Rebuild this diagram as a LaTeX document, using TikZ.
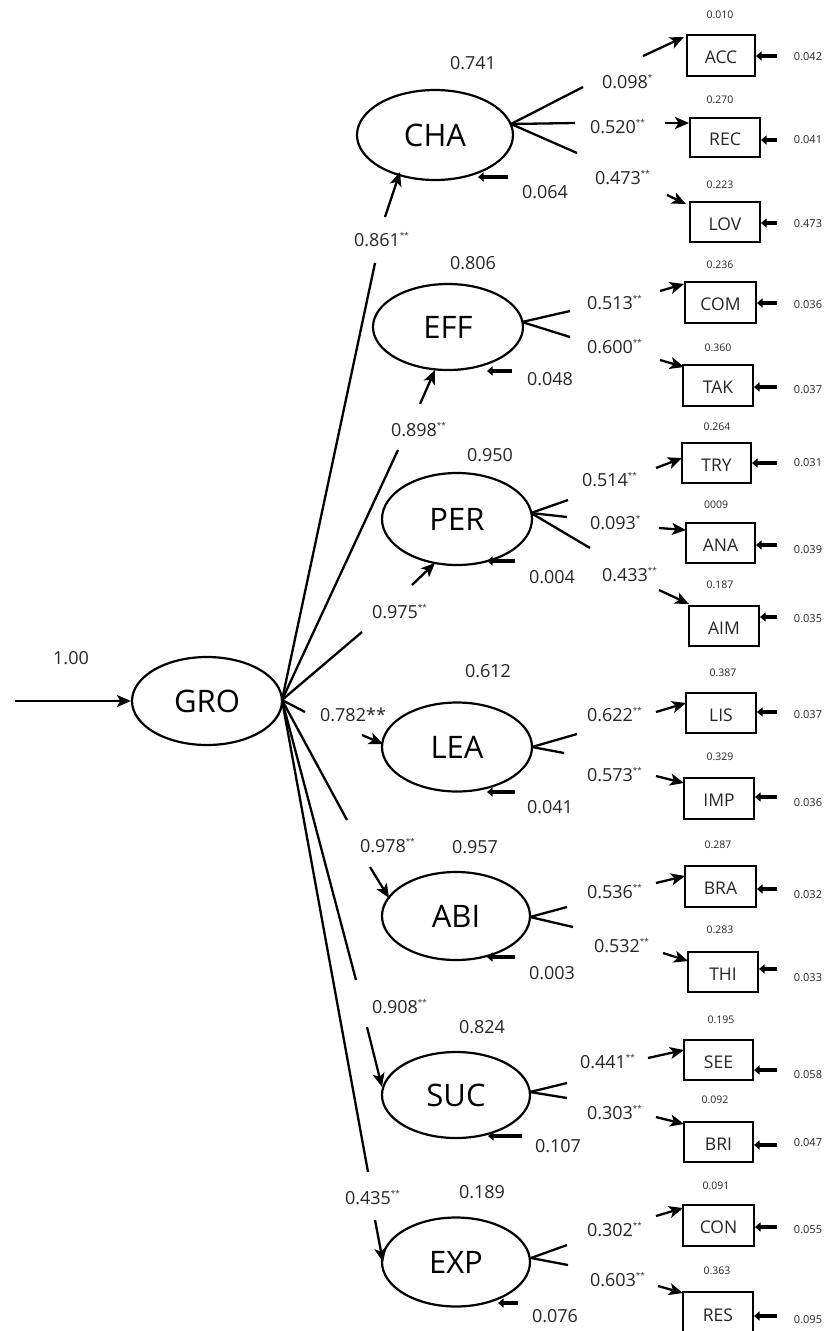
\documentclass[tikz,border=0pt]{standalone}
\usepackage{fontspec}
\setmainfont{Open Sans}
\usetikzlibrary{arrows.meta,shapes.geometric}
\newcommand\sig[1]{\rlap{\raisebox{0.45em}{\fontsize{8}{8}\selectfont#1}}}
\begin{document}
\begin{tikzpicture}[x=1pt,y=-1pt,
 lat/.style={ellipse, draw, line width=2.2pt, inner sep=0pt, font=\fontsize{31}{31}\selectfont},
 obs/.style={rectangle, draw, line width=2pt, inner sep=0pt, font=\fontsize{17.5}{17.5}\selectfont, text=black!85},
 ln/.style={line width=2.3pt},
 arr/.style={line width=2.3pt, -{Stealth[length=14pt,width=12pt,inset=3.5pt]}},
 err/.style={line width=4pt, -{Triangle[length=5.5pt,width=9pt]}},
 val/.style={font=\fontsize{18}{18}\selectfont, text=black!85, inner sep=0pt},
 sm/.style={font=\fontsize{10.5}{10.5}\selectfont, text=black!85, inner sep=0pt}]
\useasboundingbox[fill=white] (0,0) rectangle (831,1331);

% ---------- GRO ----------
\node[lat, minimum width=150pt, minimum height=88pt] (gro) at (207,701) {GRO};
\coordinate (gin) at (15,701);
\draw[arr] (gin) -- (gro.west);
\node[val] (v100) at (71,658) {1.00};
\coordinate (go) at (282,700);

% ---------- latents ----------
\foreach \nm/\tx/\cx/\cy/\w/\h/\rv/\rx/\ry/\lx/\ly/\gv/\gx/\gy/\ax/\ay/\bx/\by/\esx/\etx/\ey/\ev/\evx/\evy/\fx/\fy in {
 cha/CHA/435/135/156/90/0.741/473/63/375/263/{0.861\sig{**}}/377/240/385/217/400/172/508/478/177/0.064/545/192/511/124,
 eff/EFF/448/327/150/86/0.806/473/263/398/450/{0.898\sig{**}}/414/430/420/404/435/370/512/487/371/0.048/550/379/522/322,
 per/PER/457/519/150/92/0.950/490/455/362/632/{0.975\sig{**}}/395/612/412/585/435/563/515/487/561/0.004/552/577/531/513,
 lea/LEA/457/747/150/89/0.612/488/671/305/712/{0.782**}/353/715/362/735/383/744/515/487/792/0.041/550/807/532/747,
 abi/ABI/456/916/148/88/0.957/475/847/347/820/{0.978\sig{**}}/383/846/370/867/389/898/515/487/957/0.003/552/973/530/917,
 suc/SUC/456/1095/148/86/0.824/482/1027/356/980/{0.908\sig{**}}/395/1007/367/1027/382/1087/522/488/1136/0.107/558/1146/530/1092,
 exp/EXP/456/1262/148/89/0.189/482/1192/368/1172/{0.435\sig{**}}/368/1198/375/1220/383/1262/518/498/1303/0.076/555/1316/531/1258}
{
 \node[lat, minimum width=\w pt, minimum height=\h pt] (\nm) at (\cx,\cy) {\tx};
 \node[val] (\nm-r) at (\rx,\ry) {\rv};
 \coordinate (\nm-l) at (\lx,\ly);
 \draw[ln] (go) -- (\nm-l);
 \node[val] (\nm-g) at (\gx,\gy) {\gv};
 \coordinate (\nm-a) at (\ax,\ay);
 \coordinate (\nm-b) at (\bx,\by);
 \draw[arr] (\nm-a) -- (\nm-b);
 \coordinate (\nm-es) at (\esx,\ey);
 \coordinate (\nm-et) at (\etx,\ey);
 \draw[err] (\nm-es) -- (\nm-et);
 \node[val] (\nm-ev) at (\evx,\evy) {\ev};
 \coordinate (\nm-f) at (\fx,\fy);
}

% ---------- fan lines from latents ----------
\foreach \nm/\x/\y/\i in {
 cha/583/87/1, cha/575/123/2, cha/577/153/3,
 eff/570/311/1, eff/570/337/2,
 per/568/500/1, per/567/517/2, per/590/548/3,
 lea/577/734/1, lea/564/753/2,
 abi/567/907/1, abi/573/927/2,
 suc/567/1083/1, suc/567/1098/2,
 exp/567/1245/1, exp/568/1265/2}
{
 \coordinate (\nm-f\i) at (\x,\y);
 \draw[ln] (\nm-f) -- (\nm-f\i);
}

% ---------- loading labels ----------
\foreach \nm/\t/\x/\y in {
 l1/{0.098\sig{*}}/625/82, l2/{0.520\sig{**}}/613/127, l3/{0.473\sig{**}}/618/178,
 l4/{0.513\sig{**}}/610/303, l5/{0.600\sig{**}}/610/347,
 l6/{0.514\sig{**}}/605/480, l7/{0.093\sig{*}}/613/523, l8/{0.433\sig{**}}/625/575,
 l9/{0.622\sig{**}}/610/715, l10/{0.573\sig{**}}/610/775,
 l11/{0.536\sig{**}}/610/892, l12/{0.532\sig{**}}/617/946,
 l13/{0.441\sig{**}}/603/1062, l14/{0.303\sig{**}}/610/1113,
 l15/{0.302\sig{**}}/610/1230, l16/{0.603\sig{**}}/613/1280}
{
 \node[val] (\nm) at (\x,\y) {\t};
}

% ---------- observed boxes ----------
\foreach \nm/\lab/\cx/\cy/\w/\h/\tv/\tvx/\tvy/\ey/\ev/\evy/\sx/\sy/\px/\py in {
 acc/ACC/721/55.5/68/41/0.010/720/15/56/0.042/57/643/56/684/37,
 rec/REC/725/137.5/70/39/0.270/720/100/140/0.041/140/665/123/689/123,
 lov/LOV/725/222/70/40/0.223/720/185/223/0.473/224/667/195/686/204,
 com/COM/720.5/302.5/71/41/0.236/720/265/303/0.036/305/660/291/684/284,
 tak/TAK/718/385.5/70/41/0.360/718/348/387/0.037/390/660/360/684/367,
 try/TRY/716.5/463/69/40/0.264/717/427/463/0.031/463/656/468/682/458,
 ana/ANA/720.5/543/69/40/0009/716/505/545/0.039/550/659/528/686/530,
 aim/AIM/724/626/70/40/0.187/720/585/617/0.035/619/659/590/689/604,
 lis/LIS/721/713/70/40/0.387/723/673/712/0.037/715/656/712/686/703,
 imp/IMP/719/798.5/70/41/0.329/720/757/797/0.036/803/656/776/684/783,
 bra/BRA/720.5/886.5/71/41/0.287/718/845/889/0.032/895/656/883/685/876,
 thi/THI/723/972/70/40/0.283/720/930/969/0.033/978/663/953/688/961,
 see/SEE/718.5/1060/69/40/0.195/721/1020/1070/0.058/1075/648/1058/684/1050,
 bri/BRI/718.5/1142/69/40/0.092/715/1100/1145/0.047/1143/656/1117/684/1124,
 con/CON/718.5/1225.5/71/41/0.091/716/1186/1227/0.055/1230/656/1216/683/1208,
 res/RES/718/1313/70/42/0.363/717/1271/1316/0.095/1320/658/1286/683/1293}
{
 \node[obs, minimum width=\w pt, minimum height=\h pt] (\nm) at (\cx,\cy) {};
 \node[obs, draw=none] (\nm-t) at (\cx,\cy+2) {\lab};
 \node[sm] (\nm-r) at (\tvx,\tvy) {\tv};
 \coordinate (\nm-e) at (777,\ey);
 \draw[err] (\nm-e) -- (\nm-e -| \nm.east);
 \node[sm, font=\fontsize{11}{11}\selectfont] (\nm-ev) at (808,\evy) {\ev};
 \coordinate (\nm-s) at (\sx,\sy);
 \coordinate (\nm-p) at (\px,\py);
 \draw[arr] (\nm-s) -- (\nm-p);
}
\end{tikzpicture}
\end{document}
